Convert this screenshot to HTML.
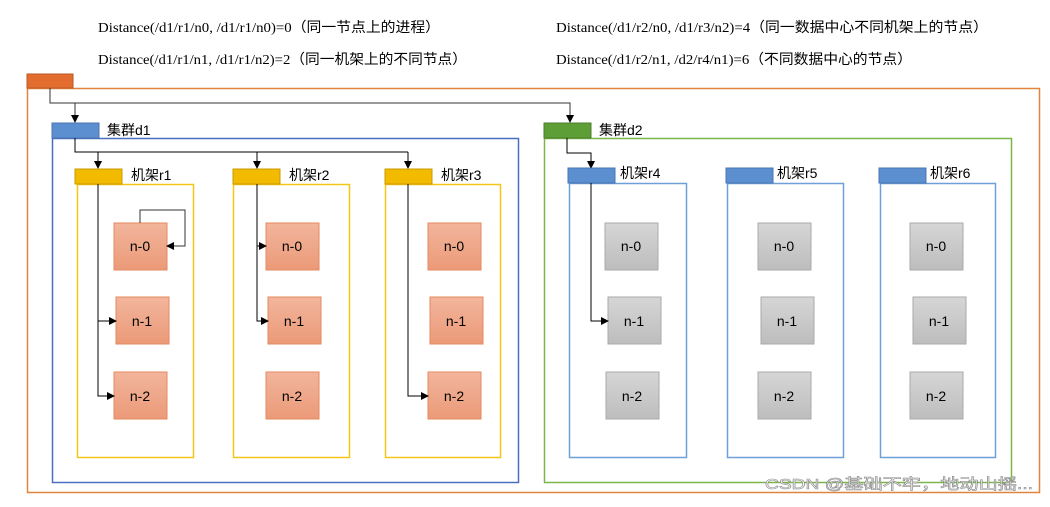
<!DOCTYPE html>
<html><head><meta charset="utf-8"><style>
body{margin:0;background:#fff;}
svg text{font-family:"Liberation Sans","Noto Sans CJK SC",sans-serif;}
.h{font-family:"Liberation Serif","Noto Sans CJK SC",serif;font-size:14px;fill:#000}
</style></head><body>
<svg width="1050" height="502" viewBox="0 0 1050 502" xmlns="http://www.w3.org/2000/svg">
<defs>
<marker id="a" markerWidth="8" markerHeight="8" refX="7" refY="4" orient="auto" markerUnits="userSpaceOnUse"><path d="M0,0 L8,4 L0,8 z" fill="#000"/></marker>
<linearGradient id="og" x1="0" y1="0" x2="0" y2="1"><stop offset="0" stop-color="#f2b59c"/><stop offset="1" stop-color="#eb9a78"/></linearGradient>
<linearGradient id="gg" x1="0" y1="0" x2="0" y2="1"><stop offset="0" stop-color="#d6d6d6"/><stop offset="1" stop-color="#bdbdbd"/></linearGradient>
</defs>
<text class="h" x="98" y="32" textLength="342" lengthAdjust="spacingAndGlyphs">Distance(/d1/r1/n0, /d1/r1/n0)=0（同一节点上的进程）</text>
<text class="h" x="98" y="64" textLength="369" lengthAdjust="spacingAndGlyphs">Distance(/d1/r1/n1, /d1/r1/n2)=2（同一机架上的不同节点）</text>
<text class="h" x="556" y="32" textLength="432" lengthAdjust="spacingAndGlyphs">Distance(/d1/r2/n0, /d1/r3/n2)=4（同一数据中心不同机架上的节点）</text>
<text class="h" x="556" y="64" textLength="356" lengthAdjust="spacingAndGlyphs">Distance(/d1/r2/n1, /d2/r4/n1)=6（不同数据中心的节点）</text>

<rect x="27.5" y="88.5" width="1012" height="404" fill="none" stroke="#e2843f" stroke-width="1.5"/>
<rect x="27" y="74" width="46" height="14" fill="#e36d2e" stroke="#b85a25"/>
<path d="M50,88 V103 H570 V122" fill="none" stroke="#333" marker-end="url(#a)"/>
<path d="M75,103 V122" fill="none" stroke="#333" marker-end="url(#a)"/>

<rect x="52.5" y="138.5" width="466" height="344" fill="none" stroke="#4a6ec2" stroke-width="1.5"/>
<rect x="52" y="123" width="47" height="15" fill="#5b8fd0" stroke="#4a74b0"/>
<text x="107" y="135" font-size="14">集群d1</text>
<path d="M75,138 V152 H408" fill="none" stroke="#000"/>
<path d="M98,152 V168" stroke="#000" marker-end="url(#a)"/>
<path d="M257,152 V168" stroke="#000" marker-end="url(#a)"/>
<path d="M408,152 V168" stroke="#000" marker-end="url(#a)"/>

<rect x="544.5" y="138.5" width="467" height="344" fill="none" stroke="#7ab648" stroke-width="1.5"/>
<rect x="544" y="123" width="47" height="15" fill="#5e9e36" stroke="#4b7f2c"/>
<text x="599" y="135" font-size="14">集群d2</text>
<path d="M567,138 V153 H591 V168" fill="none" stroke="#000" marker-end="url(#a)"/>

<g font-size="14">
<rect x="77.5" y="184.5" width="116" height="273" fill="none" stroke="#f5c518" stroke-width="1.5"/>
<rect x="75" y="169" width="47" height="15" fill="#f2bb00" stroke="#c99a00"/>
<text x="131" y="180">机架r1</text>
<rect x="233.5" y="184.5" width="116" height="273" fill="none" stroke="#f5c518" stroke-width="1.5"/>
<rect x="233" y="169" width="47" height="15" fill="#f2bb00" stroke="#c99a00"/>
<text x="289" y="180">机架r2</text>
<rect x="385.5" y="184.5" width="115" height="273" fill="none" stroke="#f5c518" stroke-width="1.5"/>
<rect x="385" y="169" width="47" height="15" fill="#f2bb00" stroke="#c99a00"/>
<text x="441" y="180">机架r3</text>
<rect x="569.5" y="183.5" width="117" height="274" fill="none" stroke="#6f9fd8" stroke-width="1.5"/>
<rect x="568" y="168" width="47" height="15" fill="#5b8fd0" stroke="#4a74b0"/>
<text x="620" y="178">机架r4</text>
<rect x="727.5" y="183.5" width="116" height="274" fill="none" stroke="#6f9fd8" stroke-width="1.5"/>
<rect x="726" y="168" width="47" height="15" fill="#5b8fd0" stroke="#4a74b0"/>
<text x="777" y="178">机架r5</text>
<rect x="880.5" y="183.5" width="115" height="274" fill="none" stroke="#6f9fd8" stroke-width="1.5"/>
<rect x="879" y="168" width="47" height="15" fill="#5b8fd0" stroke="#4a74b0"/>
<text x="930" y="178">机架r6</text>
</g>

<g stroke="#e58a60" fill="url(#og)">
<rect x="114" y="223" width="53" height="47"/><rect x="116" y="297" width="53" height="47"/><rect x="114" y="372" width="53" height="47"/>
<rect x="266" y="223" width="53" height="47"/><rect x="268" y="297" width="53" height="47"/><rect x="266" y="372" width="53" height="47"/>
<rect x="428" y="223" width="53" height="47"/><rect x="430" y="297" width="53" height="47"/><rect x="428" y="372" width="53" height="47"/>
</g>
<g stroke="#aaa" fill="url(#gg)">
<rect x="605" y="223" width="53" height="47"/><rect x="608" y="297" width="53" height="47"/><rect x="606" y="372" width="53" height="47"/>
<rect x="758" y="223" width="53" height="47"/><rect x="761" y="297" width="53" height="47"/><rect x="758" y="372" width="53" height="47"/>
<rect x="910" y="223" width="53" height="47"/><rect x="913" y="297" width="53" height="47"/><rect x="910" y="372" width="53" height="47"/>
</g>
<g font-size="14" text-anchor="middle" fill="#000">
<text x="140" y="251">n-0</text><text x="142" y="326">n-1</text><text x="140" y="401">n-2</text>
<text x="292" y="251">n-0</text><text x="294" y="326">n-1</text><text x="292" y="401">n-2</text>
<text x="454" y="251">n-0</text><text x="456" y="326">n-1</text><text x="454" y="401">n-2</text>
<text x="631" y="251">n-0</text><text x="634" y="326">n-1</text><text x="632" y="401">n-2</text>
<text x="784" y="251">n-0</text><text x="787" y="326">n-1</text><text x="784" y="401">n-2</text>
<text x="936" y="251">n-0</text><text x="939" y="326">n-1</text><text x="936" y="401">n-2</text>
</g>

<g fill="none" stroke="#000">
<path d="M98,184 V396 H114" marker-end="url(#a)"/>
<path d="M98,321 H116" marker-end="url(#a)"/>
<path d="M140,223 V210 H185 V246 H167" stroke="#333" marker-end="url(#a)"/>
<path d="M257,184 V321 H268" marker-end="url(#a)"/>
<path d="M257,246 H266" marker-end="url(#a)"/>
<path d="M408,184 V396 H428" marker-end="url(#a)"/>
<path d="M591,183 V321 H608" marker-end="url(#a)"/>
</g>
<text x="765" y="489" font-size="15" fill="#fff" stroke="#888" stroke-width="0.6" textLength="268" lengthAdjust="spacingAndGlyphs">CSDN @基础不牢，地动山摇...</text>
</svg>
</body></html>
